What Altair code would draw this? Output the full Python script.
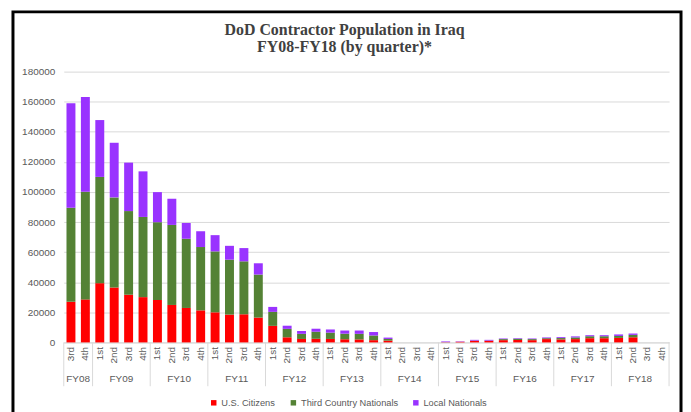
import altair as alt
import pandas as pd

title_lines = ["DoD Contractor Population in Iraq", "FY08-FY18 (by quarter)*"]

fiscal_years = ["FY08", "FY09", "FY10", "FY11", "FY12", "FY13",
                "FY14", "FY15", "FY16", "FY17", "FY18"]
quarters_per_fy = {
    "FY08": ["3rd", "4th"],
    "FY09": ["1st", "2nd", "3rd", "4th"],
    "FY10": ["1st", "2nd", "3rd", "4th"],
    "FY11": ["1st", "2nd", "3rd", "4th"],
    "FY12": ["1st", "2nd", "3rd", "4th"],
    "FY13": ["1st", "2nd", "3rd", "4th"],
    "FY14": ["1st", "2nd", "3rd", "4th"],
    "FY15": ["1st", "2nd", "3rd", "4th"],
    "FY16": ["1st", "2nd", "3rd", "4th"],
    "FY17": ["1st", "2nd", "3rd", "4th"],
    "FY18": ["1st", "2nd", "3rd", "4th"],
}

series_names = ["U.S. Citizens", "Third Country Nationals", "Local Nationals"]
series_colors = ["#FF0000", "#548235", "#9933FF"]

us_citizens = [27000, 28600,
               39400, 36500, 31700, 30100,
               28200, 24900, 22900, 21300,
               20000, 18500, 18700, 16500,
               11000, 3400, 2300, 2400,
               2300, 2100, 2000, 1500,
               1200, 0, 0, 0,
               150, 450, 1100, 1100,
               1500, 1600, 1500, 2200,
               2000, 2200, 2800, 2800,
               3000, 3400, 0, 0]
third_country = [62500, 71500,
                 70600, 59900, 55600, 53300,
                 51700, 53200, 46000, 42100,
                 40500, 36500, 35200, 28600,
                 9300, 5600, 3400, 4700,
                 4200, 3700, 3700, 3100,
                 1100, 0, 0, 0,
                 50, 0, 100, 100,
                 700, 800, 700, 600,
                 900, 1100, 1300, 1300,
                 1300, 1600, 0, 0]
local_nationals = [69500, 63100,
                   37800, 36300, 32200, 30300,
                   20000, 17400, 10500, 10500,
                   10800, 9200, 8800, 7500,
                   3300, 2100, 1900, 2000,
                   2100, 2100, 2200, 2300,
                   900, 0, 0, 0,
                   450, 250, 500, 500,
                   400, 400, 400, 500,
                   600, 700, 700, 700,
                   1000, 900, 0, 0]

y_ticks = [0, 20000, 40000, 60000, 80000, 100000, 120000, 140000, 160000, 180000]

# ---- build tables ----
cats = []
for fy in fiscal_years:
    for q in quarters_per_fy[fy]:
        cats.append(f"{fy}|{q}")

rows = []
for i, c in enumerate(cats):
    for k, (name, vals) in enumerate(zip(series_names, [us_citizens, third_country, local_nationals])):
        rows.append({"cat": c, "series": name, "ord": k, "value": vals[i]})
df = pd.DataFrame(rows)

# FY group labels anchored at centre of each group
fy_rows = []
for fy in fiscal_years:
    qs = quarters_per_fy[fy]
    anchor = qs[len(qs) // 2 - 1]
    fy_rows.append({"cat": f"{fy}|{anchor}", "fy": fy})
fy_df = pd.DataFrame(fy_rows)

sep_df = pd.DataFrame({"cat": [f"{fy}|{quarters_per_fy[fy][0]}" for fy in fiscal_years]})
end_df = pd.DataFrame({"cat": [cats[-1]]})

W, H = 608, 272
step = W / len(cats)
grey_txt = "#595959"
grey_line = "#d9d9d9"
font = "Liberation Sans"

x_axis = alt.Axis(title=None, labelAngle=-90, labelExpr="split(datum.label, '|')[1]",
                  ticks=False, domainColor=grey_line, labelColor=grey_txt,
                  labelFont=font, labelFontSize=10, labelPadding=4)
x_scale = alt.Scale(paddingInner=0, paddingOuter=0)

bars = alt.Chart(df).mark_bar(width={"band": 0.62}).encode(
    x=alt.X("cat:N", sort=cats, scale=x_scale, axis=x_axis),
    y=alt.Y("value:Q", stack="zero",
            scale=alt.Scale(domain=[0, 180000], nice=False),
            axis=alt.Axis(values=y_ticks, format="d", title=None, domain=False,
                          ticks=False, gridColor=grey_line, labelColor=grey_txt,
                          labelFont=font, labelFontSize=10, labelPadding=9)),
    color=alt.Color("series:N",
                    scale=alt.Scale(domain=series_names, range=series_colors),
                    legend=alt.Legend(title=None, orient="none", direction="horizontal",
                                      legendX=146, legendY=328, padding=0,
                                      symbolType="square", symbolSize=30,
                                      symbolStrokeWidth=0, labelFont=font,
                                      labelFontSize=9.3, labelColor=grey_txt,
                                      labelOffset=3, columnPadding=13)),
    order=alt.Order("ord:Q", sort="ascending"),
)

fy_text = alt.Chart(fy_df).mark_text(dx=step / 2, font=font, fontSize=10,
                                     color=grey_txt, baseline="middle").encode(
    x=alt.X("cat:N", sort=cats, scale=x_scale, axis=x_axis),
    y=alt.value(309),
    text="fy:N",
)

seps = alt.Chart(sep_df).mark_rule(color=grey_line, strokeWidth=1).encode(
    x=alt.X("cat:N", sort=cats, scale=x_scale, axis=x_axis, bandPosition=0),
    y=alt.value(H),
    y2=alt.value(H + 44),
)
end_sep = alt.Chart(end_df).mark_rule(color=grey_line, strokeWidth=1).encode(
    x=alt.X("cat:N", sort=cats, scale=x_scale, axis=x_axis, bandPosition=1),
    y=alt.value(H),
    y2=alt.value(H + 44),
)

one = pd.DataFrame({"k": [0]})
title = alt.Chart(one).mark_text(font="Liberation Serif", fontSize=16, fontWeight="bold",
                                 color="#404040", lineHeight=17, baseline="middle",
                                 align="center").encode(
    x=alt.value(282), y=alt.value(-42), text=alt.value(title_lines))

border = alt.Chart(one).mark_rect(filled=False, stroke="black", strokeWidth=3).encode(
    x=alt.value(-51), x2=alt.value(620), y=alt.value(-60), y2=alt.value(360))

chart = alt.layer(bars, seps, end_sep, fy_text, title, border).properties(
    width=W, height=H,
    autosize=alt.AutoSizeParams(type="none"),
    padding={"left": 56, "top": 63, "right": 14, "bottom": 69},
).configure_view(stroke=None)

chart.save("out.html", embed_options={"renderer": "svg", "actions": False})
